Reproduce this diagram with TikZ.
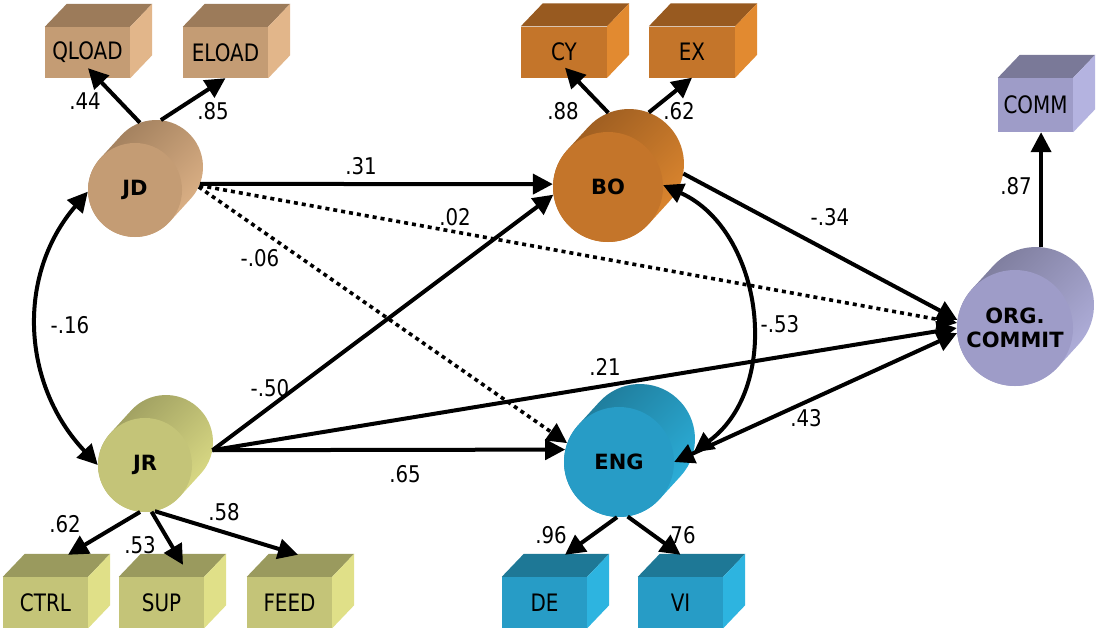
\documentclass[tikz,border=0pt]{standalone}
\usepackage{fontspec}
\setmainfont{DejaVu Sans}
\newfontfamily\labfont[FakeStretch=0.86]{DejaVu Sans}
\newfontfamily\boxfont[FakeStretch=0.83]{DejaVu Sans}
\usetikzlibrary{arrows.meta,calc}
\definecolor{tanF}{HTML}{C49C74}
\definecolor{tanS}{HTML}{E2B68A}
\definecolor{tanT}{HTML}{9C7B5A}
\definecolor{orF}{HTML}{C4752A}
\definecolor{orS}{HTML}{E28A30}
\definecolor{orT}{HTML}{985A20}
\definecolor{puF}{HTML}{9E9CC8}
\definecolor{puS}{HTML}{B4B3E0}
\definecolor{puT}{HTML}{7A7998}
\definecolor{olF}{HTML}{C4C478}
\definecolor{olS}{HTML}{E0E088}
\definecolor{olT}{HTML}{9A9A5E}
\definecolor{blF}{HTML}{279CC6}
\definecolor{blS}{HTML}{2DB4E0}
\definecolor{blT}{HTML}{1E7896}
% #1 name, #2 x, #3 y, #4 r, #5 diameter, #6 front, #7 side, #8 top, #9 label
\newcommand\drawcyl[9]{%
  \shade[top color=#8, bottom color=#7, shading angle=45]
    ($(#2,#3)+(222:#4)$) -- ($(#2+21,#3-23)+(222:#4)$)
    arc[start angle=222, end angle=402, radius=#4]
    -- ($(#2,#3)+(42:#4)$)
    arc[start angle=42, end angle=222, radius=#4] -- cycle;
  \node[circle, inner sep=0pt, minimum size=#5pt] (#1b) at (#2+21,#3-23) {};
  \node[cylf, fill=#6, minimum size=#5pt] (#1) at (#2,#3) {#9};
}
% #1 name, #2 x, #3 y, #4 width, #5 height, #6 front, #7 side, #8 top, #9 text
\newcommand\drawcube[9]{%
  \node[cubef, fill=#6, minimum width=#4pt, minimum height=#5pt] (#1) at (#2,#3) {#9};
  \fill[#8] (#1.north west) -- ++(22,-23) -- ($(#1.north east)+(22,-23)$) -- (#1.north east) -- cycle;
  \fill[#7] (#1.north east) -- ++(22,-23) -- ($(#1.south east)+(22,-23)$) -- (#1.south east) -- cycle;
}
\begin{document}
\begin{tikzpicture}[x=1pt, y=-1pt,
  cylf/.style={circle, inner sep=0pt, align=center, font=\bfseries\fontsize{21}{24}\selectfont},
  cubef/.style={rectangle, inner sep=0pt, font=\boxfont\fontsize{24}{28}\selectfont},
  lab/.style={inner sep=0pt, font=\labfont\fontsize{23}{27}\selectfont},
  arr/.style={line width=4pt, -{Triangle[length=20pt, width=20pt]}},
  darr/.style={line width=4pt, {Triangle[length=20pt, width=20pt]}-{Triangle[length=20pt, width=20pt]}},
  dotarr/.style={arr, line width=3.6pt, dash pattern=on 4pt off 4pt}]
\fill[white] (0,0) rectangle (1106,630);
\useasboundingbox (0,0) rectangle (1106,630);

% cubes
\drawcube{QLOAD}{87.5}{52.5}{85}{51}{tanF}{tanS}{tanT}{QLOAD}
\drawcube{ELOAD}{225.5}{52.5}{85}{51}{tanF}{tanS}{tanT}{ELOAD}
\drawcube{CY}{564}{52}{86}{51}{orF}{orS}{orT}{CY}
\drawcube{EX}{692}{52}{86}{51}{orF}{orS}{orT}{EX}
\drawcube{COMM}{1035.5}{105}{75}{54}{puF}{puS}{puT}{COMM}
\drawcube{CTRL}{45.5}{602.5}{85}{51}{olF}{olS}{olT}{CTRL}
\drawcube{SUP}{161.5}{602.5}{85}{51}{olF}{olS}{olT}{SUP}
\drawcube{FEED}{289.5}{602.5}{85}{51}{olF}{olS}{olT}{FEED}
\drawcube{DE}{544.5}{602.5}{85}{51}{blF}{blS}{blT}{DE}
\drawcube{VI}{680.5}{602.5}{85}{51}{blF}{blS}{blT}{VI}

% cylinders
\drawcyl{JD}{135}{190}{47}{94}{tanF}{tanS}{tanT}{JD}
\drawcyl{BO}{608}{187}{55}{110}{orF}{orS}{orT}{BO}
\drawcyl{ENG}{619}{462}{55}{110}{blF}{blS}{blT}{ENG}
\drawcyl{JR}{145}{465}{47}{94}{olF}{olS}{olT}{JR}
\drawcyl{ORG}{1015}{328}{58}{116}{puF}{puS}{puT}{ORG.\\COMMIT}

% indicator arrows
\draw[arr] (JDb.110) -- ($(QLOAD.south)+(0.5,-10)$);
\draw[arr] (JDb.84) -- (ELOAD.south);
\draw[arr] (BOb.112) -- ($(CY.south)+(1,-10)$);
\draw[arr] (BOb.69) -- (EX.south);
\draw[arr] (ORGb.85) -- (ORGb.85 |- COMM.south);
\draw[arr] (JR.264) -- ($(CTRL.north)+(22.5,-22)$);
\draw[arr] (JR.278) -- ($(SUP.north)+(21.5,-12)$);
\draw[arr] (JR.282) -- ($(FEED.north)+(8.5,-22)$);
\draw[arr] (ENG.268) -- ($(DE.north)+(20.5,-22)$);
\draw[arr] (ENG.279) -- ($(VI.north)+(0,-22)$);

% structural paths
\draw[arr] (JDb.-21) -- (BO.177);
\draw[dotarr] (JDb.-23) -- (ORG.175);
\draw[dotarr] (JDb.-25) -- (ENG.160);
\draw[arr] (JRb.-10) -- (BO.188);
\draw[arr] (JRb.-10) -- (ORG.180);
\draw[arr] (JRb.-10) -- (ENG.167);
\draw[arr] (BOb.-10) -- (ORG.172);
\draw[darr] (ENG.0) -- (ORG.185);
\draw[darr] (BO.2) .. controls +(100,45) and +(90,-66) .. (ENGb.-14);
\draw[darr] (JD.182) .. controls +(-72,84) and +(-76,-80) .. (JR.180);

% labels
\node[lab] (t44) at (85,101) {.44};
\node[lab] (t85) at (213,111) {.85};
\node[lab] (t88) at (563,111) {.88};
\node[lab] (t62a) at (679,111) {.62};
\node[lab] (t87) at (1016,186) {.87};
\node[lab] (t62b) at (65,524) {.62};
\node[lab] (t53) at (140,545) {.53};
\node[lab] (t58) at (224,512) {.58};
\node[lab] (t96) at (551,535) {.96};
\node[lab] (t76) at (683,535) {76};
\node[lab] (t31) at (361,166) {.31};
\node[lab] (t02) at (455,217) {.02};
\node[lab] (t06) at (260,258) {-.06};
\node[lab] (t50) at (270,388) {-.50};
\node[lab] (t21) at (605,367) {.21};
\node[lab] (t65) at (405,474) {.65};
\node[lab] (t34) at (830,217) {-.34};
\node[lab] (t43) at (806,418) {.43};
\node[lab] (t53b) at (780,324) {-.53};
\node[lab] (t16) at (70,325) {-.16};
\end{tikzpicture}
\end{document}
